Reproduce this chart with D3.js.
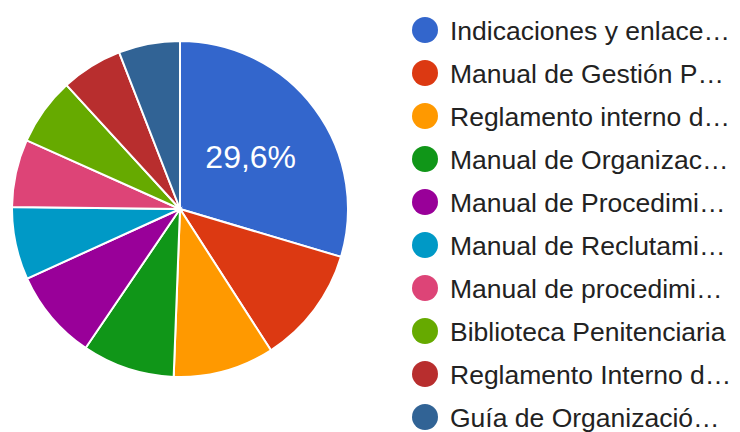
<!DOCTYPE html>
<html>
<head>
<meta charset="utf-8">
<script src="https://cdn.jsdelivr.net/npm/d3@7"></script>
<style>
  html, body { margin: 0; padding: 0; background: #ffffff; }
  svg { display: block; }
</style>
</head>
<body>
<svg id="chart" width="740" height="432"></svg>
<script>
const categories = [
  "Indicaciones y enlace…",
  "Manual de Gestión P…",
  "Reglamento interno d…",
  "Manual de Organizac…",
  "Manual de Procedimi…",
  "Manual de Reclutami…",
  "Manual de procedimi…",
  "Biblioteca Penitenciaria",
  "Reglamento Interno d…",
  "Guía de Organizació…"
];
const values = [29.6, 11.3, 9.7, 8.9, 8.7, 7.0, 6.5, 6.5, 5.9, 5.9];
const colors = ["#3366cc", "#dc3912", "#ff9900", "#109618", "#990099",
                "#0099c6", "#dd4477", "#66aa00", "#b82e2e", "#316395"];

const svg = d3.select("#chart");
const cx = 180, cy = 209, r = 168;
const font = "Arial, 'Liberation Sans', sans-serif";

const data = categories.map((c, i) => ({ name: c, value: values[i], color: colors[i] }));
const total = d3.sum(values);

const pie = d3.pie().value(d => d.value).sort(null);
const arc = d3.arc().innerRadius(0).outerRadius(r);
const arcs = pie(data);

const g = svg.append("g").attr("transform", `translate(${cx},${cy})`);
g.selectAll("path").data(arcs).enter().append("path")
  .attr("d", arc)
  .attr("fill", d => d.data.color)
  .attr("stroke", "#ffffff")
  .attr("stroke-width", 2);

const fmt = v => (v).toFixed(1).replace(".", ",") + "%";
const labelArc = d3.arc().innerRadius(r * 0.525).outerRadius(r * 0.525);
g.selectAll("text.slice").data(arcs.filter(d => (d.endAngle - d.startAngle) / (2 * Math.PI) > 0.2))
  .enter().append("text")
  .attr("class", "slice")
  .attr("transform", d => `translate(${labelArc.centroid(d)})`)
  .attr("text-anchor", "middle")
  .attr("dy", "0.36em")
  .attr("fill", "#ffffff")
  .style("font-family", font)
  .style("font-size", "32px")
  .text(d => fmt(d.data.value / total * 100));

const legendY = d3.scalePoint().domain(categories).range([30, 417]);
const lg = svg.append("g");
const items = lg.selectAll("g").data(data).enter().append("g")
  .attr("transform", d => `translate(0,${legendY(d.name)})`);
items.append("circle").attr("cx", 425).attr("cy", 0).attr("r", 13).attr("fill", d => d.color);
items.append("text")
  .attr("x", 450).attr("y", 0).attr("dy", "0.36em")
  .attr("fill", "#222222")
  .style("font-family", font)
  .style("font-size", "26.5px")
  .text(d => d.name);
</script>
</body>
</html>
